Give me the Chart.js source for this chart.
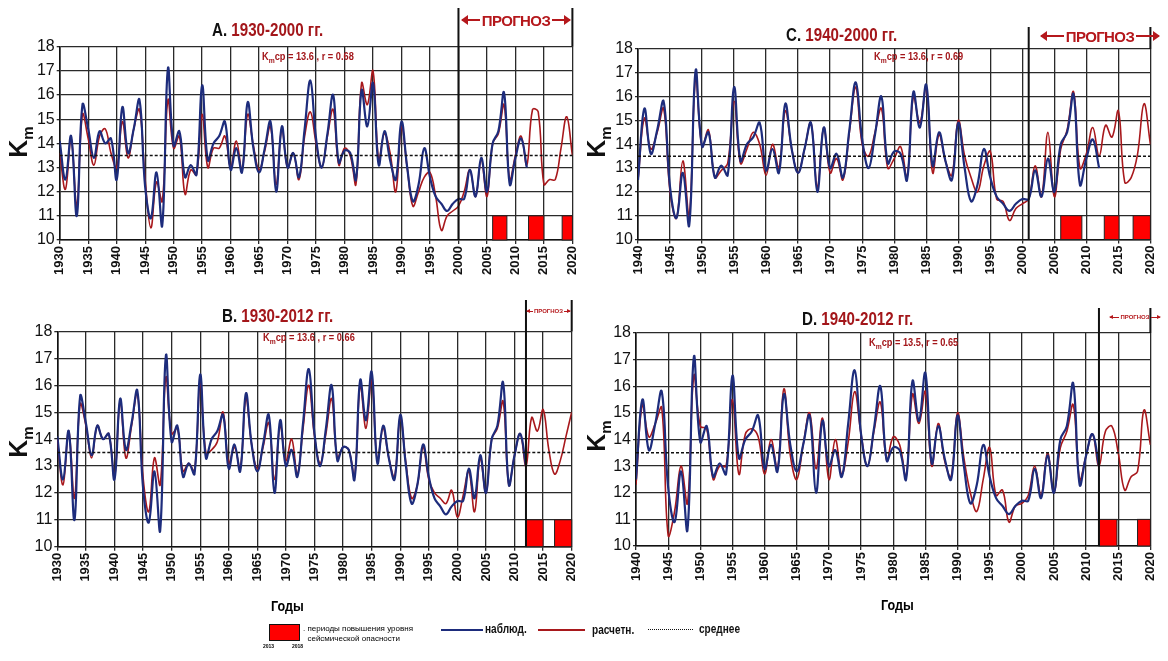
<!DOCTYPE html>
<html>
<head>
<meta charset="utf-8">
<script src="https://cdn.jsdelivr.net/npm/chart.js@4.4.0/dist/chart.umd.min.js"></script>
<style>
  body { margin:0; background:#fff; width:1168px; height:661px; position:relative; overflow:hidden;
         font-family:"Liberation Sans",Arial,sans-serif; }
  canvas { position:absolute; }
  .t { position:absolute; white-space:nowrap; font-weight:bold; }
  .nar { display:inline-block; transform:scaleX(0.84); transform-origin:left center; }
  .ttl { font-size:18px; color:#111; }
  .ttl span { color:#a3161a; }
  .st { font-size:11px; color:#a3161a; }
  .st sub { font-size:8px; }
  .fc { color:#b5181c; display:flex; align-items:center; letter-spacing:-0.6px; }
  .arr { flex:1; height:2px; background:#b5181c; position:relative; margin:0 2px; }
  .arr.l::before { content:''; position:absolute; left:-1px; top:-4px; border-top:5px solid transparent;
                   border-bottom:5px solid transparent; border-right:7px solid #b5181c; }
  .arr.r::after { content:''; position:absolute; right:-1px; top:-4px; border-top:5px solid transparent;
                  border-bottom:5px solid transparent; border-left:7px solid #b5181c; }
  .sm .arr { height:1px; margin:0 1px; }
  .sm .arr.l::before { top:-2px; border-top-width:2.5px; border-bottom-width:2.5px; border-right-width:4px; }
  .sm .arr.r::after { top:-2px; border-top-width:2.5px; border-bottom-width:2.5px; border-left-width:4px; }
  .km { font-size:25px; color:#111; transform:rotate(-90deg); transform-origin:center; }
  .km sub { font-size:15px; }
  .lg { font-size:12px; color:#111; }
</style>
</head>
<body>

<canvas id="chA" width="590" height="300" style="left:0;top:0"></canvas>
<canvas id="chB" width="590" height="320" style="left:0;top:300px"></canvas>
<canvas id="chC" width="578" height="300" style="left:590px;top:0"></canvas>
<canvas id="chD" width="578" height="320" style="left:590px;top:300px"></canvas>

<!-- titles -->
<div class="t ttl" style="left:212px;top:20px"><span class="nar" style="color:#111">A. <span>1930-2000 гг.</span></span></div>
<div class="t st" style="left:262px;top:50px"><span class="nar">K<sub>m</sub>ср = 13.6 , r = 0.68</span></div>
<div class="t ttl" style="left:786px;top:25px"><span class="nar" style="color:#111">C. <span>1940-2000 гг.</span></span></div>
<div class="t st" style="left:874px;top:50px"><span class="nar">K<sub>m</sub>ср = 13.6, r = 0.69</span></div>
<div class="t ttl" style="left:222px;top:306px"><span class="nar" style="color:#111">B. <span>1930-2012 гг.</span></span></div>
<div class="t st" style="left:263px;top:331px"><span class="nar">K<sub>m</sub>ср = 13.6 , r = 0.66</span></div>
<div class="t ttl" style="left:802px;top:309px"><span class="nar" style="color:#111">D. <span>1940-2012 гг.</span></span></div>
<div class="t st" style="left:869px;top:336px"><span class="nar">K<sub>m</sub>ср = 13.5, r = 0.65</span></div>

<!-- forecast labels -->
<div class="t fc" style="left:460px;width:112px;top:10px;height:20px;font-size:15px"><span class="arr l"></span>ПРОГНОЗ<span class="arr r"></span></div>
<div class="t fc" style="left:1039px;width:122px;top:26px;height:20px;font-size:15px"><span class="arr l"></span>ПРОГНОЗ<span class="arr r"></span></div>
<div class="t fc sm" style="left:526px;width:45px;top:307px;height:8px;font-size:6px;letter-spacing:0"><span class="arr l"></span>ПРОГНОЗ<span class="arr r"></span></div>
<div class="t fc sm" style="left:1109px;width:52px;top:313px;height:8px;font-size:6px;letter-spacing:0"><span class="arr l"></span>ПРОГНОЗ<span class="arr r"></span></div>

<!-- axis titles -->
<div class="t km" style="left:4px;top:126px">K<sub>m</sub></div>
<div class="t km" style="left:582px;top:126px">K<sub>m</sub></div>
<div class="t km" style="left:4px;top:426px">K<sub>m</sub></div>
<div class="t km" style="left:582px;top:420px">K<sub>m</sub></div>
<div class="t" style="left:271px;top:597px;font-size:15px"><span class="nar">Годы</span></div>
<div class="t" style="left:881px;top:596px;font-size:15px"><span class="nar">Годы</span></div>

<!-- legend -->
<div style="position:absolute;left:269px;top:624px;width:29px;height:15px;background:#ff0000;border:1px solid #111"></div>
<div class="t" style="left:263px;top:643px;font-size:5px">2013</div>
<div class="t" style="left:292px;top:643px;font-size:5px">2018</div>
<div class="t" style="left:303px;top:624px;font-size:8px;line-height:10px;font-weight:normal">. периоды повышения уровня<br>&nbsp;&nbsp;сейсмической опасности</div>
<div style="position:absolute;left:441px;top:629px;width:42px;height:2px;background:#1d2c7c"></div>
<div class="t lg" style="left:485px;top:622px"><span class="nar">наблюд.</span></div>
<div style="position:absolute;left:538px;top:629px;width:47px;height:2px;background:#a8181c"></div>
<div class="t lg" style="left:592px;top:623px"><span class="nar">расчетн.</span></div>
<div style="position:absolute;left:648px;top:629px;width:45px;border-top:1px dotted #111"></div>
<div class="t lg" style="left:699px;top:622px"><span class="nar">среднее</span></div>

<script>
// observed Km, yearly 1930..2012
const obsStart = 1930;
const obsKm = [
  14.1, 12.5, 14.3, 11.0, 15.6, 14.6, 13.4, 14.5, 14.0, 14.2,
  12.5, 15.5, 13.6, 14.6, 15.8, 12.2, 10.9, 12.8, 10.6, 17.1,
  13.9, 14.5, 12.6, 13.1, 12.7, 16.4, 13.3, 14.0, 14.3, 14.9,
  12.9, 13.8, 12.8, 15.7, 13.8, 12.8, 13.8, 14.9, 12.0, 14.7,
  13.0, 13.6, 12.6, 14.6, 16.6, 14.2, 13.0, 14.4, 16.0, 13.2,
  13.7, 13.6, 12.5, 16.2, 14.7, 16.5, 13.1, 14.5, 13.3, 12.5,
  14.9, 13.0, 11.6, 12.3, 13.8, 12.6, 11.8, 11.5, 11.2, 11.5,
  11.7, 11.7, 12.9, 11.8, 13.4, 12.0, 14.0, 14.5, 16.1, 12.3,
  13.4, 14.2, 13.0
];

// calculated Km (model fitted on 1930-2000), 1930..2020
const calcA = [
  13.6, 12.1, 14.2, 11.4, 15.2, 14.2, 13.1, 14.3, 14.6, 13.6,
  13.0, 14.9, 13.4, 14.6, 15.4, 12.5, 10.5, 12.4, 11.6, 15.8,
  13.8, 14.3, 11.9, 12.9, 12.7, 15.2, 13.0, 13.8, 13.8, 14.3,
  13.0, 14.1, 12.9, 15.2, 13.9, 12.9, 13.7, 14.7, 12.3, 14.6,
  13.0, 13.6, 12.5, 14.3, 15.3, 14.0, 13.0, 14.3, 15.4, 13.1,
  13.8, 13.5, 12.3, 16.5, 15.6, 17.0, 13.3, 14.4, 13.6, 12.0,
  14.7, 13.0, 11.4, 12.0, 12.6, 12.8, 11.8, 10.4, 11.0, 11.2,
  11.4, 12.0, 12.9, 11.8, 13.3, 11.8, 14.0, 14.4, 15.6, 12.5,
  13.5, 14.3, 13.1, 15.4, 15.3, 12.3, 12.5, 12.5, 13.8, 15.1,
  13.5
];

// calculated Km (fitted on 1930-2012), 1930..2020
const calcB = [
  14.0, 12.3, 14.3, 11.8, 15.3, 14.5, 13.3, 14.5, 14.0, 14.2,
  12.6, 15.4, 13.3, 14.5, 15.7, 12.6, 11.3, 13.3, 12.3, 16.3,
  14.2, 14.4, 12.8, 13.1, 12.8, 16.1, 13.5, 13.6, 13.9, 15.0,
  13.1, 13.7, 12.9, 15.5, 13.8, 12.9, 13.7, 14.6, 12.5, 14.5,
  13.2, 14.0, 12.7, 14.4, 16.0, 14.1, 13.1, 14.2, 15.5, 13.3,
  13.7, 13.6, 12.6, 16.0, 14.4, 16.2, 13.2, 14.4, 13.3, 12.6,
  14.8, 13.1, 11.8, 12.3, 13.7, 12.5, 12.0, 11.8, 11.6, 12.1,
  11.1, 11.9, 12.8, 11.3, 13.3, 12.0, 14.0, 14.4, 15.4, 12.3,
  13.4, 14.2, 13.0, 14.8, 14.3, 15.1, 13.6, 12.7, 13.2, 14.1,
  15.0
];

// calculated Km (fitted on 1940-2000), 1940..2020
const calcC = [
  12.5, 15.1, 13.8, 14.5, 15.5, 12.0, 10.9, 13.3, 11.0, 16.8,
  13.9, 14.6, 12.6, 12.9, 13.2, 15.8, 13.2, 13.8, 14.5, 14.0,
  12.7, 14.0, 13.0, 15.4, 13.8, 12.8, 13.8, 14.9, 12.2, 14.7,
  12.8, 13.4, 12.5, 14.5, 16.4, 14.0, 13.5, 14.5, 15.5, 13.0,
  13.4, 13.9, 12.6, 16.0, 14.9, 16.4, 12.8, 14.4, 13.3, 12.7,
  15.0, 13.5, 12.6, 12.0, 13.1, 13.7, 11.7, 11.6, 10.8, 11.3,
  11.5, 11.7, 13.1, 11.8, 14.5, 11.8, 13.8, 14.6, 16.2, 13.0,
  13.6, 14.7, 13.5, 14.8, 14.3, 15.4, 12.4, 12.6, 13.6, 15.7,
  14.0
];

// calculated Km (fitted on 1940-2012), 1940..2020
const calcD = [
  12.3, 15.3, 14.1, 14.6, 15.2, 10.4, 11.3, 13.0, 11.6, 16.4,
  14.5, 14.4, 12.5, 13.0, 13.0, 15.5, 12.7, 14.2, 14.4, 14.1,
  12.7, 14.0, 12.9, 15.9, 13.4, 12.5, 13.8, 15.0, 12.9, 14.8,
  12.5, 14.0, 12.7, 13.9, 15.8, 14.2, 13.0, 14.3, 15.4, 13.2,
  14.1, 13.8, 12.6, 15.7, 14.6, 15.8, 13.0, 14.6, 13.2, 12.6,
  15.0, 13.3, 12.0, 11.3, 12.5, 13.7, 11.9, 12.1, 10.9, 11.5,
  11.6, 11.9, 13.0, 11.9, 13.5, 12.0, 13.7, 14.3, 15.3, 12.5,
  13.4, 14.2, 13.0, 14.3, 14.5, 13.5, 12.1, 12.6, 12.8, 15.1,
  13.8
];

const meanKm = 13.5;

// periods of raised seismic danger (years, from-to)
const dangerA = [[2006, 2008.5], [2012.3, 2015], [2018.2, 2020]];
const dangerB = [[2012, 2015], [2017, 2020]];
const dangerC = [[2006, 2009.3], [2012.8, 2015.1], [2017.3, 2020]];
const dangerD = [[2012, 2014.8], [2018, 2020]];

const endYear = 2020;

// layout of the four panels (canvas size, wanted plot area, top of forecast line)
const panels = [
  { id: 'chA', start: 1930, calc: calcA, danger: dangerA, forecast: 2000, w: 590, h: 300, area: { l: 59.7, r: 572.7, t: 46.7, b: 240 }, fcTop: 8 },
  { id: 'chB', start: 1930, calc: calcB, danger: dangerB, forecast: 2012, w: 590, h: 320, area: { l: 57.3, r: 571.7, t: 31.5, b: 246.7 }, fcTop: 0 },
  { id: 'chC', start: 1940, calc: calcC, danger: dangerC, forecast: 2001, w: 578, h: 300, area: { l: 48, r: 571, t: 49, b: 239.5 }, fcTop: 27 },
  { id: 'chD', start: 1940, calc: calcD, danger: dangerD, forecast: 2012, w: 578, h: 320, area: { l: 46, r: 571, t: 33, b: 246 }, fcTop: 8 }
];

const Y_W = 26, X_H = 54;
const tickFont = 'Liberation Sans, Arial, sans-serif';

const decor = {
  id: 'decor',
  beforeDatasetsDraw(chart, args, opts) {
    const { ctx, scales: { x, y } } = chart;
    ctx.save();
    opts.danger.forEach(([a, b]) => {
      const x0 = x.getPixelForValue(a), x1 = x.getPixelForValue(b);
      const y0 = y.getPixelForValue(11), y1 = y.getPixelForValue(10);
      ctx.fillStyle = '#ff0000';
      ctx.fillRect(x0, y0, x1 - x0, y1 - y0);
      ctx.strokeStyle = '#222';
      ctx.lineWidth = 1;
      ctx.strokeRect(x0, y0, x1 - x0, y1 - y0);
    });
    ctx.restore();
  },
  afterDraw(chart, args, opts) {
    const { ctx, chartArea, scales: { x } } = chart;
    ctx.save();
    ctx.strokeStyle = '#111';
    ctx.lineWidth = 2;
    const xf = x.getPixelForValue(opts.forecast);
    ctx.beginPath();
    ctx.moveTo(xf, opts.fcTop);
    ctx.lineTo(xf, chartArea.bottom);
    ctx.moveTo(chartArea.right, opts.fcTop);
    ctx.lineTo(chartArea.right, chartArea.top);
    ctx.stroke();
    ctx.restore();
  }
};

function series(start, values) {
  return values.map((v, i) => ({ x: start + i, y: v }));
}

panels.forEach(p => {
  const obs = series(obsStart, obsKm).filter(d => d.x >= p.start);
  const calc = series(p.start, p.calc);
  new Chart(document.getElementById(p.id), {
    type: 'line',
    data: {
      datasets: [
        { data: [{ x: p.start, y: meanKm }, { x: endYear, y: meanKm }], borderColor: '#111', borderWidth: 1.5,
          borderDash: [3, 2], pointRadius: 0, order: 0 },
        { data: obs, borderColor: '#1d2c7c', borderWidth: 2.2, tension: 0.4, pointRadius: 0, order: 1 },
        { data: calc, borderColor: '#a8181c', borderWidth: 1.6, tension: 0.4, pointRadius: 0, order: 2 }
      ]
    },
    options: {
      responsive: false,
      animation: false,
      events: [],
      layout: { padding: { left: p.area.l - Y_W, right: p.w - p.area.r, top: p.area.t, bottom: p.h - p.area.b - X_H } },
      plugins: {
        legend: { display: false },
        tooltip: { enabled: false },
        decor: { danger: p.danger, forecast: p.forecast, fcTop: p.fcTop }
      },
      scales: {
        x: {
          type: 'linear', min: p.start, max: endYear,
          afterFit: s => { s.height = X_H; },
          grid: { color: '#2a2a2a', lineWidth: 1.3, tickLength: 4 },
          border: { color: '#111', width: 1.6 },
          ticks: { stepSize: 5, autoSkip: false, minRotation: 90, maxRotation: 90, padding: 2,
                   color: '#111', font: { size: 13, weight: 'bold', family: tickFont },
                   callback: v => String(v) }
        },
        y: {
          min: 10, max: 18,
          afterFit: s => { s.width = Y_W; },
          grid: { color: '#2a2a2a', lineWidth: 1.3, tickLength: 3 },
          border: { color: '#111', width: 1.6 },
          ticks: { stepSize: 1, autoSkip: false, padding: 2, color: '#111',
                   font: { size: 16, family: tickFont } }
        }
      }
    },
    plugins: [decor]
  });
});
</script>
</body>
</html>
